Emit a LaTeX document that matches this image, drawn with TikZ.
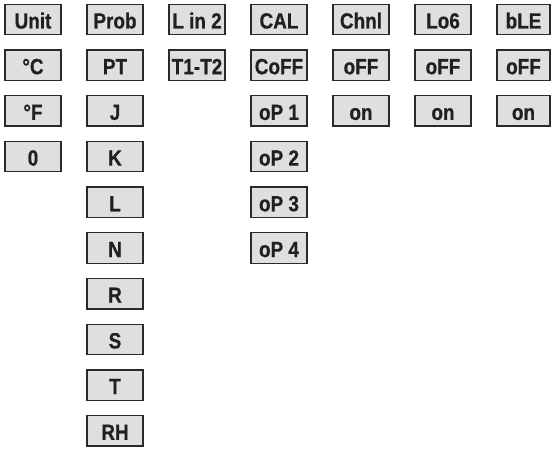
\documentclass[tikz,border=0pt]{standalone}
\usepackage{fontspec}
\newfontfamily\boxfont[FakeStretch=0.86, BoldFeatures={FakeBold=0.7}]{Liberation Sans}
\definecolor{boxfill}{HTML}{DEDFE1}
\definecolor{boxline}{HTML}{2A2A2A}
\definecolor{boxtext}{HTML}{231F20}
\begin{document}
\begin{tikzpicture}[x=1pt,y=-1pt,
  keybox/.style={draw=boxline, fill=boxfill, line width=1.3pt, inner sep=0pt,
    minimum width=56pt, minimum height=30.5pt, anchor=center,
    text height=18pt, text depth=0pt, text=boxtext,
    font=\boxfont\bfseries\fontsize{22pt}{22pt}\selectfont},
  lastbox/.style={keybox, minimum width=53pt}]
\useasboundingbox (0,0) rectangle (551,449);
% columns centers: 5+28 + 82k ; rows centers: 19.5 + 45.7r
\node[keybox] (unit) at (33,19.5) {Unit};
\node[keybox] (degc) at (33,65.2) {°C};
\node[keybox] (degf) at (33,110.9) {°F};
\node[keybox] (zero) at (33,156.6) {0};

\node[keybox] (prob) at (115,19.5) {Prob};
\node[keybox] (pt) at (115,65.2) {PT};
\node[keybox] (j) at (115,110.9) {J};
\node[keybox] (k) at (115,156.6) {K};
\node[keybox] (l) at (115,202.3) {L};
\node[keybox] (n) at (115,248.0) {N};
\node[keybox] (r) at (115,293.7) {R};
\node[keybox] (s) at (115,339.4) {S};
\node[keybox] (t) at (115,385.1) {T};
\node[keybox] (rh) at (115,430.8) {RH};

\node[keybox] (lin) at (197,19.5) {L in 2};
\node[keybox] (tt) at (197,65.2) {T1-T2};

\node[keybox] (cal) at (279,19.5) {CAL};
\node[keybox] (coff) at (279,65.2) {CoFF};
\node[keybox] (op1) at (279,110.9) {oP 1};
\node[keybox] (op2) at (279,156.6) {oP 2};
\node[keybox] (op3) at (279,202.3) {oP 3};
\node[keybox] (op4) at (279,248.0) {oP 4};

\node[keybox] (chnl) at (361,19.5) {Chnl};
\node[keybox] (off1) at (361,65.2) {oFF};
\node[keybox] (on1) at (361,110.9) {on};

\node[keybox] (log) at (443,19.5) {Lo6};
\node[keybox] (off2) at (443,65.2) {oFF};
\node[keybox] (on2) at (443,110.9) {on};

\node[lastbox] (ble) at (523.5,19.5) {bLE};
\node[lastbox] (off3) at (523.5,65.2) {oFF};
\node[lastbox] (on3) at (523.5,110.9) {on};
\end{tikzpicture}
\end{document}
